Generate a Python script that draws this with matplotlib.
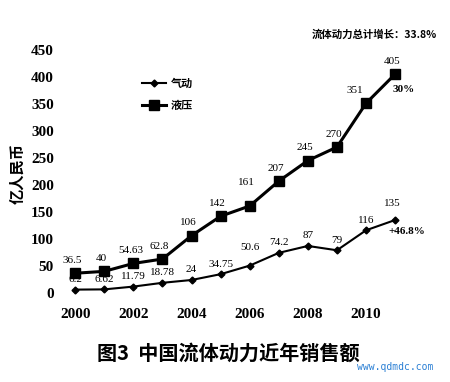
import matplotlib
matplotlib.use("Agg")
import matplotlib.pyplot as plt

years = [2000, 2001, 2002, 2003, 2004, 2005, 2006, 2007, 2008, 2009, 2010, 2011]
pneumatic = [6.2, 6.62, 11.79, 18.78, 24, 34.75, 50.6, 74.2, 87, 79, 116, 135]
hydraulic = [36.5, 40, 54.63, 62.8, 106, 142, 161, 207, 245, 270, 351, 405]
pneu_labels = ["6.2", "6.62", "11.79", "18.78", "24", "34.75", "50.6", "74.2", "87", "79", "116", "135"]
hyd_labels = ["36.5", "40", "54.63", "62.8", "106", "142", "161", "207", "245", "270", "351", "405"]
xticks = [2000, 2002, 2004, 2006, 2008, 2010]
yticks = [0, 50, 100, 150, 200, 250, 300, 350, 400, 450]

# label offsets (points), styling only
pneu_off = {2006: (0, 10), 2011: (-2, 9)}
hyd_off = {2006: (-2, 14), 2010: (-8, 6)}

cjk = ['Noto Sans CJK SC', 'DejaVu Sans']
serif = 'Liberation Serif'

fig = plt.figure(figsize=(4.5, 3.82), dpi=100)
ax = fig.add_axes([0.138, 0.2147, 0.773, 0.662])

l1, = ax.plot(years, pneumatic, color='black', lw=1.5, marker='D', ms=3.5, label='气动')
l2, = ax.plot(years, hydraulic, color='black', lw=2.2, marker='s', ms=7, label='液压')

for x, y, t in zip(years, pneumatic, pneu_labels):
    ax.annotate(t, (x, y), xytext=pneu_off.get(x, (0, 4)), textcoords='offset points',
                ha='center', va='bottom', fontsize=8, family=serif)
ax.annotate("+46.8%", (2011, 135), xytext=(-5, -5), textcoords='offset points', ha='left', va='top',
            fontsize=8, family=serif, fontweight='bold')

for x, y, t in zip(years, hydraulic, hyd_labels):
    ax.annotate(t, (x, y), xytext=hyd_off.get(x, (-2, 6)), textcoords='offset points',
                ha='center', va='bottom', fontsize=8, family=serif)
ax.annotate("30%", (2011, 405), xytext=(-2, -8), textcoords='offset points', ha='left', va='top',
            fontsize=8, family=serif, fontweight='bold')

ax.set_xlim(1999.55, 2011.51)
ax.set_ylim(-13, 455)
ax.set_xticks(xticks)
ax.set_yticks(yticks)
ax.set_xticklabels([str(v) for v in xticks], family=serif, fontweight='bold', fontsize=11)
ax.set_yticklabels([str(v) for v in yticks], family=serif, fontweight='bold', fontsize=11)
ax.tick_params(length=0, pad=6)
for s in ax.spines.values():
    s.set_visible(False)
ax.set_ylabel('亿人民币', family=cjk, fontsize=11, fontweight='bold', labelpad=4)

ax.legend(handles=[l1, l2], loc='upper left', bbox_to_anchor=(0.2, 0.92), frameon=False,
          prop={'family': cjk, 'size': 8, 'weight': 'bold'}, handlelength=2.2, handletextpad=0.4,
          labelspacing=0.8)

fig.text(0.972, 0.91, '流体动力总计增长：33.8%', family=cjk, fontsize=7.5, fontweight='bold', ha='right', va='center')
fig.text(0.508, 0.076, '图3  中国流体动力近年销售额', family=cjk, fontsize=14.5, fontweight='bold', ha='center', va='center')
fig.text(0.962, 0.04, 'www.qdmdc.com', family='DejaVu Sans Mono', fontsize=7, color='#2a7fd4', ha='right', va='center')

fig.savefig('out.png', dpi=100)
